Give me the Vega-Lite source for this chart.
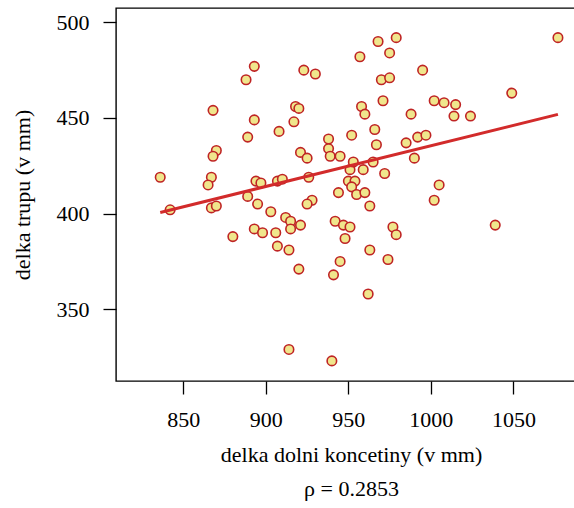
{
  "$schema": "https://vega.github.io/schema/vega-lite/v6.json",
  "width": 470,
  "height": 373,
  "autosize": "none",
  "padding": {"left": 116, "top": 8, "right": 0, "bottom": 127},
  "background": "white",
  "config": {
    "font": "Liberation Serif",
    "view": {"stroke": "black", "strokeWidth": 1.4},
    "axis": {
      "grid": false,
      "domain": false,
      "ticks": true,
      "tickColor": "black",
      "tickWidth": 1.3,
      "tickSize": 13,
      "labelFont": "Liberation Serif",
      "labelFontSize": 22,
      "labelColor": "black",
      "titleFont": "Liberation Serif",
      "titleFontSize": 22,
      "titleFontWeight": "normal",
      "titleColor": "black"
    }
  },
  "datasets": {
    "body": [
      {"leg": 836, "trunk": 419}, {"leg": 893, "trunk": 477}, {"leg": 888, "trunk": 470},
      {"leg": 923, "trunk": 475}, {"leg": 930, "trunk": 473}, {"leg": 868, "trunk": 454},
      {"leg": 893, "trunk": 449}, {"leg": 918, "trunk": 456}, {"leg": 920, "trunk": 455},
      {"leg": 917, "trunk": 448}, {"leg": 889, "trunk": 440}, {"leg": 908, "trunk": 443},
      {"leg": 938, "trunk": 439}, {"leg": 938, "trunk": 434}, {"leg": 939, "trunk": 430},
      {"leg": 945, "trunk": 430}, {"leg": 952, "trunk": 441}, {"leg": 870, "trunk": 433},
      {"leg": 868, "trunk": 430}, {"leg": 921, "trunk": 432}, {"leg": 925, "trunk": 429},
      {"leg": 867, "trunk": 419}, {"leg": 865, "trunk": 415}, {"leg": 894, "trunk": 417},
      {"leg": 897, "trunk": 416}, {"leg": 907, "trunk": 417}, {"leg": 910, "trunk": 418},
      {"leg": 926, "trunk": 419}, {"leg": 944, "trunk": 411}, {"leg": 950, "trunk": 417},
      {"leg": 951, "trunk": 423}, {"leg": 889, "trunk": 409}, {"leg": 928, "trunk": 407},
      {"leg": 1077, "trunk": 492}, {"leg": 968, "trunk": 490}, {"leg": 979, "trunk": 492},
      {"leg": 975, "trunk": 484}, {"leg": 957, "trunk": 482}, {"leg": 995, "trunk": 475},
      {"leg": 970, "trunk": 470}, {"leg": 975, "trunk": 471}, {"leg": 1049, "trunk": 463},
      {"leg": 971, "trunk": 459}, {"leg": 958, "trunk": 456}, {"leg": 960, "trunk": 452},
      {"leg": 1002, "trunk": 459}, {"leg": 1008, "trunk": 458}, {"leg": 1015, "trunk": 457},
      {"leg": 1014, "trunk": 451}, {"leg": 1024, "trunk": 451}, {"leg": 988, "trunk": 452},
      {"leg": 966, "trunk": 444}, {"leg": 967, "trunk": 436}, {"leg": 985, "trunk": 437},
      {"leg": 992, "trunk": 440}, {"leg": 997, "trunk": 441}, {"leg": 990, "trunk": 429},
      {"leg": 953, "trunk": 427}, {"leg": 965, "trunk": 427}, {"leg": 959, "trunk": 423},
      {"leg": 972, "trunk": 421}, {"leg": 954, "trunk": 417}, {"leg": 952, "trunk": 414},
      {"leg": 955, "trunk": 410}, {"leg": 960, "trunk": 411}, {"leg": 1005, "trunk": 415},
      {"leg": 1002, "trunk": 407}, {"leg": 842, "trunk": 402}, {"leg": 867, "trunk": 403},
      {"leg": 870, "trunk": 404}, {"leg": 895, "trunk": 405}, {"leg": 903, "trunk": 401},
      {"leg": 912, "trunk": 398}, {"leg": 915, "trunk": 396}, {"leg": 915, "trunk": 392},
      {"leg": 921, "trunk": 394}, {"leg": 893, "trunk": 392}, {"leg": 898, "trunk": 390},
      {"leg": 906, "trunk": 390}, {"leg": 880, "trunk": 388}, {"leg": 907, "trunk": 383},
      {"leg": 914, "trunk": 381}, {"leg": 920, "trunk": 371}, {"leg": 925, "trunk": 405},
      {"leg": 942, "trunk": 396}, {"leg": 947, "trunk": 394}, {"leg": 951, "trunk": 393},
      {"leg": 948, "trunk": 387}, {"leg": 945, "trunk": 375}, {"leg": 941, "trunk": 368},
      {"leg": 914, "trunk": 329}, {"leg": 940, "trunk": 323}, {"leg": 963, "trunk": 404},
      {"leg": 977, "trunk": 393}, {"leg": 979, "trunk": 389}, {"leg": 963, "trunk": 381},
      {"leg": 974, "trunk": 376}, {"leg": 962, "trunk": 358}, {"leg": 1039, "trunk": 394}
    ],
    "fit": [
      {"leg": 836, "trunk": 400.6},
      {"leg": 1077, "trunk": 451.9}
    ]
  },
  "encoding": {
    "x": {
      "field": "leg",
      "type": "quantitative",
      "scale": {"domain": [809.2, 1094], "nice": false, "zero": false},
      "axis": {
        "values": [850, 900, 950, 1000, 1050],
        "format": "d",
        "labelPadding": 15,
        "title": ["delka dolni koncetiny (v mm)", "ρ = 0.2853"],
        "titleLineHeight": 34,
        "titlePadding": 14
      }
    },
    "y": {
      "field": "trunk",
      "type": "quantitative",
      "scale": {"domain": [312.5, 507.5], "nice": false, "zero": false},
      "axis": {
        "values": [350, 400, 450, 500],
        "format": "d",
        "labelAngle": 0,
        "labelPadding": 14,
        "title": "delka trupu (v mm)",
        "titlePadding": 22
      }
    }
  },
  "layer": [
    {
      "data": {"name": "body"},
      "mark": {
        "type": "point",
        "shape": "circle",
        "filled": true,
        "size": 90,
        "fill": "#F0E68C",
        "stroke": "#BF2424",
        "strokeWidth": 1.6,
        "opacity": 1
      }
    },
    {
      "data": {"name": "fit"},
      "mark": {"type": "line", "color": "#D22B2B", "strokeWidth": 3}
    }
  ]
}
